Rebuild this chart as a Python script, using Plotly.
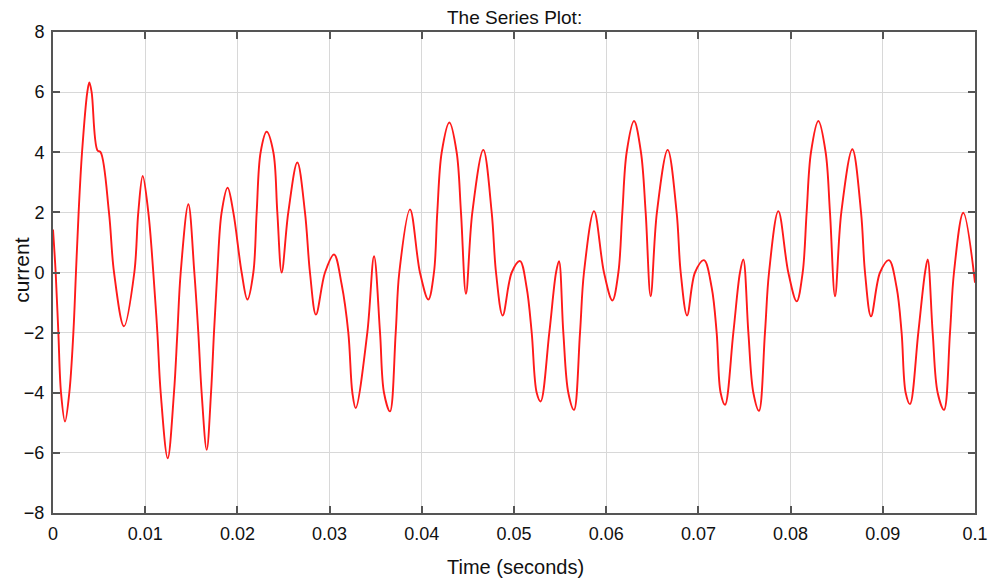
import plotly.graph_objects as go

# Sampled current waveform: time in milliseconds, current in amperes
time_ms = [
    0.0, 0.29, 0.58, 0.87, 1.30, 1.77, 2.21, 2.49, 2.78, 3.15, 3.72, 3.94, 4.19, 4.81, 5.17,
    6.07, 6.62, 7.70, 8.82, 9.25, 9.73, 10.34, 10.88, 11.32, 11.68, 12.44, 13.12, 13.49,
    13.85, 14.68, 15.33, 15.76, 16.12, 16.67, 17.14, 17.46, 17.82, 18.29, 18.94, 19.56,
    20.46, 21.08, 21.73, 22.09, 22.52, 23.17, 23.90, 24.33, 24.80, 25.52, 26.50, 27.33,
    27.87, 28.52, 29.50, 30.48, 31.31, 32.03, 32.47, 32.83, 34.09, 34.82, 35.47, 35.90,
    36.55, 37.17, 37.56, 38.72, 39.80, 40.71, 41.32, 41.68, 42.16, 42.99, 43.78, 44.25,
    44.79, 45.48, 46.67, 47.58, 48.05, 48.77, 49.75, 50.65, 51.37, 51.92, 52.46, 52.89,
    53.83, 54.56, 54.88, 55.35, 55.89, 56.51, 57.16, 57.59, 58.68, 59.76, 60.67, 61.32,
    61.75, 62.22, 63.02, 63.77, 64.28, 64.82, 65.50, 66.67, 67.64, 68.08, 68.77, 69.63,
    70.61, 71.44, 71.98, 72.41, 72.89, 73.79, 74.51, 74.87, 75.42, 75.96, 76.57, 77.22,
    77.66, 78.67, 79.75, 80.66, 81.31, 81.74, 82.21, 83.01, 83.80, 84.27, 84.82, 85.50,
    86.70, 87.64, 88.07, 88.72, 89.70, 90.67, 91.50, 92.04, 92.48, 92.95, 93.85, 94.58,
    94.87, 95.41, 95.95, 96.64, 97.29, 97.72, 98.73, 100.0,
]
current = [
    1.43, 0.0, -2.0, -4.0, -4.96, -4.0, -2.0, 0.0, 2.0, 4.0, 6.0, 6.32, 6.0, 4.07, 4.0,
    2.0, 0.0, -1.79, 0.0, 2.0, 3.21, 2.0, 0.0, -2.0, -4.0, -6.18, -4.0, -2.0,
    0.0, 2.27, 0.0, -2.0, -4.0, -5.9, -4.0, -2.0, 0.0, 2.0, 2.82, 2.0,
    0.0, -0.9, 0.0, 2.0, 4.0, 4.68, 4.0, 2.0, 0.0, 2.0, 3.66, 2.0,
    0.0, -1.4, 0.0, 0.6, -0.4, -2.0, -4.0, -4.51, -2.0, 0.54, -2.0, -4.0,
    -4.62, -2.0, 0.0, 2.1, 0.0, -0.9, 0.0, 2.0, 4.0, 4.99, 4.0, 2.0,
    -0.71, 2.0, 4.08, 2.0, 0.0, -1.43, 0.0, 0.38, -0.5, -2.0, -4.0, -4.29,
    -2.0, 0.0, 0.38, -2.0, -4.0, -4.57, -2.0, 0.0, 2.04, 0.0, -0.93, 0.0,
    2.0, 4.0, 5.04, 4.0, 2.0, -0.79, 2.0, 4.08, 2.0, 0.0, -1.43, 0.0,
    0.41, -0.5, -2.0, -4.0, -4.4, -2.0, 0.0, 0.43, -2.0, -4.0, -4.6, -2.0,
    0.0, 2.04, 0.0, -0.96, 0.0, 2.0, 4.0, 5.04, 4.0, 2.0, -0.79, 2.0,
    4.1, 2.0, 0.0, -1.46, 0.0, 0.41, -0.5, -2.0, -4.0, -4.38, -2.0, 0.0,
    0.43, -2.0, -4.0, -4.57, -2.0, 0.0, 1.99, -0.34,
]
time_s = [t / 1000.0 for t in time_ms]

x_ticks = [0, 0.01, 0.02, 0.03, 0.04, 0.05, 0.06, 0.07, 0.08, 0.09, 0.1]
x_tick_labels = ["0", "0.01", "0.02", "0.03", "0.04", "0.05", "0.06", "0.07", "0.08", "0.09", "0.1"]
y_ticks = [-8, -6, -4, -2, 0, 2, 4, 6, 8]

FONT = "Liberation Sans, Arial, sans-serif"

fig = go.Figure()
fig.add_trace(go.Scatter(
    x=time_s, y=current, mode="lines",
    line=dict(color="#ff1a1a", width=1.9, shape="spline", smoothing=1.0),
    showlegend=False, hoverinfo="x+y",
))

axis_common = dict(
    showgrid=True, gridcolor="#d8d8d8", gridwidth=1.3,
    showline=True, linecolor="#555555", linewidth=2, mirror="ticks",
    ticks="inside", ticklen=7, tickwidth=2, tickcolor="#555555",
    zeroline=False,
    tickfont=dict(family=FONT, size=18, color="#111111"),
)

fig.update_layout(
    width=1003, height=583,
    margin=dict(l=53, r=28, t=32, b=70),
    paper_bgcolor="white", plot_bgcolor="white",
    xaxis=dict(range=[0, 0.1], tickvals=x_ticks, ticktext=x_tick_labels,
               ticklabelstandoff=3, **axis_common),
    yaxis=dict(range=[-8, 8], tickvals=y_ticks, ticklabelstandoff=3, **axis_common),
    annotations=[
        dict(text="The Series Plot:", xref="paper", yref="paper", x=0.5, y=1.031,
             xanchor="center", yanchor="middle", showarrow=False,
             font=dict(family=FONT, size=19, color="#111111")),
        dict(text="Time (seconds)", xref="paper", yref="paper", x=0.502, y=-0.112,
             xanchor="center", yanchor="middle", showarrow=False,
             font=dict(family=FONT, size=20, color="#111111")),
        dict(text="current", xref="paper", yref="paper", x=-0.035, y=0.505,
             xanchor="center", yanchor="middle", textangle=-90, showarrow=False,
             font=dict(family=FONT, size=21, color="#111111")),
    ],
)

fig.write_html("out.html")
